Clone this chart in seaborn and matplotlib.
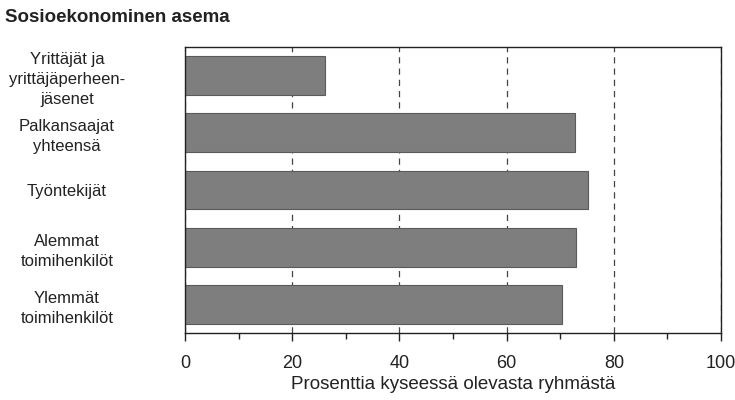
import pandas as pd
import matplotlib.pyplot as plt
from matplotlib.ticker import MultipleLocator
import seaborn as sns

sns.set_style("white")
plt.rcParams['font.family'] = ['Liberation Sans', 'DejaVu Sans']

# Data
groups = [
    "Yrittäjät ja\nyrittäjäperheen-\njäsenet",
    "Palkansaajat\nyhteensä",
    "Työntekijät",
    "Alemmat\ntoimihenkilöt",
    "Ylemmät\ntoimihenkilöt",
]
values = [26.1, 72.7, 75.1, 73.0, 70.3]

df = pd.DataFrame({"Ryhmä": groups, "Prosentti": values})

fig = plt.figure(figsize=(7.35, 4), dpi=100)
ax = fig.add_axes([0.2517, 0.1675, 0.7293, 0.715])

sns.barplot(
    data=df,
    y="Ryhmä",
    x="Prosentti",
    orient="h",
    color="#7e7e7e",
    edgecolor="#5a5a5a",
    linewidth=0.8,
    width=0.68,
    saturation=1,
    ax=ax
)

ax.set_xlim(0, 100)
ax.set_ylim(4.5, -0.5)
ax.xaxis.set_major_locator(MultipleLocator(20))
ax.xaxis.set_minor_locator(MultipleLocator(10))
ax.set_axisbelow(True)
ax.grid(axis="x", which="major", linestyle=(0, (5, 4)), color="#444444", linewidth=0.9)

for side in ["top", "bottom", "left", "right"]:
    ax.spines[side].set_visible(True)
    ax.spines[side].set_color("#222222")
    ax.spines[side].set_linewidth(1.0)

ax.tick_params(axis="x", which="major", direction="out", length=6, width=1,
               bottom=True, labelsize=13, pad=10, colors="#222222")
ax.tick_params(axis="x", which="minor", direction="out", length=4, width=1,
               bottom=True, colors="#222222")
ax.tick_params(axis="y", length=0, pad=85, labelsize=12, colors="#222222")
for lab in ax.get_yticklabels():
    lab.set_ha("center")
    lab.set_multialignment("center")
    lab.set_linespacing(1.4)

ax.set_ylabel("")
ax.set_xlabel("Prosenttia kyseessä olevasta ryhmästä", fontsize=13.5,
              color="#222222", labelpad=3)

fig.text(0.007, 0.955, "Sosioekonominen asema", fontsize=13.5,
         fontweight="bold", color="#222222", va="center", ha="left")

plt.savefig("out.png", dpi=100)
plt.close()
